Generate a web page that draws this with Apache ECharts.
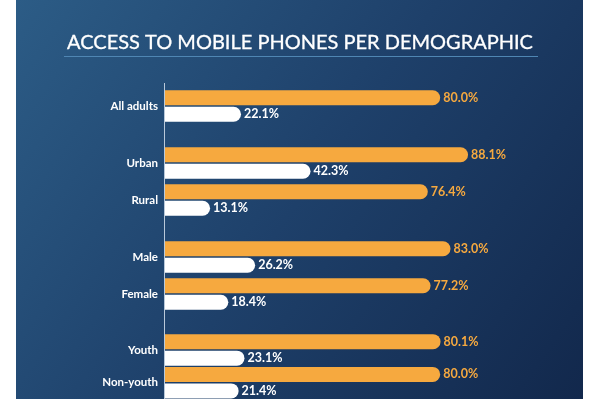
<!DOCTYPE html>
<html>
<head>
<meta charset="utf-8">
<script src="https://cdn.jsdelivr.net/npm/echarts@6/dist/echarts.min.js"></script>
<style>
  html, body { margin: 0; padding: 0; background: #fff; }
  #chart { width: 600px; height: 399px; }
</style>
</head>
<body>
<div id="chart"></div>
<script>
// data
const categories = ['All adults', 'Urban', 'Rural', 'Male', 'Female', 'Youth', 'Non-youth']
const groupSizes = [1, 2, 2, 2]
const phoneValues = [80.0, 88.1, 76.4, 83.0, 77.2, 80.1, 80.0]
const smartValues = [22.1, 42.3, 13.1, 26.2, 18.4, 23.1, 21.4]

const ORANGE = '#f6a93f'
const bandH = 37
const groupTops = [87.5, 144.5, 238.5, 333.5]

const chart = echarts.init(document.getElementById('chart'))

function barLabel(color) {
  return {
    show: true,
    position: 'right',
    distance: 3,
    color: color,
    fontFamily: 'Lato',
    fontWeight: 'bold',
    fontSize: 12.5,
    formatter: (p) => p.value.toFixed(1) + '%',
  }
}

const grids = []
const xAxes = []
const yAxes = []
const series = []
let start = 0
groupSizes.forEach((n, i) => {
  grids.push({ left: 165, right: 91, top: groupTops[i], height: bandH * n })
  xAxes.push({ gridIndex: i, type: 'value', min: 0, max: 100, show: false })
  yAxes.push({
    gridIndex: i,
    type: 'category',
    inverse: true,
    data: categories.slice(start, start + n),
    axisLine: { show: false },
    axisTick: { show: false },
    axisLabel: {
      color: '#fff',
      fontFamily: 'Lato',
      fontWeight: 'bold',
      fontSize: 11.5,
      margin: 7,
    },
  })
  series.push({
    name: 'Mobile phone',
    type: 'bar',
    xAxisIndex: i,
    yAxisIndex: i,
    data: phoneValues.slice(start, start + n),
    barWidth: 15,
    barGap: '10%',
    itemStyle: { color: ORANGE, borderRadius: [0, 8, 8, 0] },
    label: barLabel(ORANGE),
  })
  series.push({
    name: 'Smartphone',
    type: 'bar',
    xAxisIndex: i,
    yAxisIndex: i,
    data: smartValues.slice(start, start + n),
    barWidth: 15,
    barGap: '10%',
    itemStyle: { color: '#ffffff', borderRadius: [0, 8, 8, 0] },
    label: barLabel('#ffffff'),
  })
  start += n
})

chart.setOption({
  backgroundColor: '#ffffff',
  animation: false,
  title: {
    text: 'ACCESS TO MOBILE PHONES PER DEMOGRAPHIC',
    left: 'center',
    top: 28,
    textStyle: {
      color: '#ffffff',
      fontFamily: 'Lato',
      fontWeight: 'normal',
      fontSize: 20,
      textBorderColor: '#ffffff',
      textBorderWidth: 0.3,
    },
  },
  graphic: [
    {
      type: 'rect',
      z: -10,
      silent: true,
      shape: { x: 16, y: 0, width: 567, height: 399 },
      style: {
        fill: new echarts.graphic.LinearGradient(0, 0, 1, 1, [
          { offset: 0, color: '#2c5c86' },
          { offset: 0.5, color: '#1e406a' },
          { offset: 1, color: '#12284c' },
        ]),
      },
    },
    {
      type: 'line',
      silent: true,
      shape: { x1: 64, y1: 56.5, x2: 538, y2: 56.5 },
      style: { stroke: '#4f86b3', lineWidth: 1 },
    },
    {
      type: 'line',
      silent: true,
      shape: { x1: 164.5, y1: 83, x2: 164.5, y2: 399 },
      style: { stroke: '#b9c9da', lineWidth: 1 },
    },
  ],
  grid: grids,
  xAxis: xAxes,
  yAxis: yAxes,
  series: series,
})
</script>
</body>
</html>
